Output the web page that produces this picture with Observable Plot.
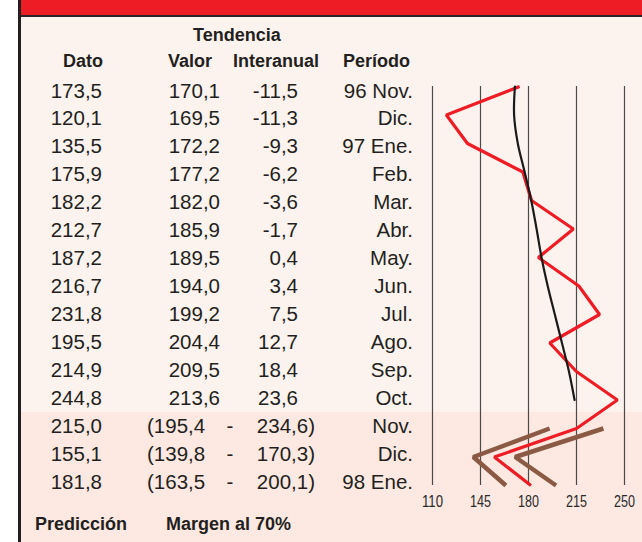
<!DOCTYPE html>
<html>
<head>
<meta charset="utf-8">
<script src="https://cdn.jsdelivr.net/npm/d3@7"></script>
<script src="https://cdn.jsdelivr.net/npm/@observablehq/plot@0.6"></script>
<style>
  html, body { margin: 0; padding: 0; background: #fff; }
  #wrap { position: relative; width: 642px; height: 542px; overflow: hidden; background: #fff;
          font-family: "Liberation Sans", Arial, Helvetica, sans-serif; }
  #band { position: absolute; left: 21px; top: 0; width: 621px; height: 14.5px; background: #ee1c25; }
  #bandline { position: absolute; left: 21px; top: 14.5px; width: 621px; height: 2.2px; background: #2b2527; }
  #panel { position: absolute; left: 21px; top: 16.7px; width: 621px; height: 526px; background: #fdf3ee; }
  #lower { position: absolute; left: 21px; top: 412px; width: 621px; height: 130px; background: #fde9e1; }
  #leftline { position: absolute; left: 18px; top: 0; width: 3px; height: 542px; background: #231f20; }
  #wrap svg.layer { position: absolute; left: 0; top: 0; }
</style>
</head>
<body>
<div id="wrap">
  <div id="band"></div>
  <div id="bandline"></div>
  <div id="panel"></div>
  <div id="lower"></div>
  <div id="leftline"></div>
</div>
<script>
// ---------------- data ----------------
const periods = ["96 Nov.", "Dic.", "97 Ene.", "Feb.", "Mar.", "Abr.", "May.", "Jun.", "Jul.", "Ago.", "Sep.", "Oct.", "Nov.", "Dic.", "98 Ene."];
const dato = [173.5, 120.1, 135.5, 175.9, 182.2, 212.7, 187.2, 216.7, 231.8, 195.5, 214.9, 244.8, 215.0, 155.1, 181.8];
const tendValor = [170.1, 169.5, 172.2, 177.2, 182.0, 185.9, 189.5, 194.0, 199.2, 204.4, 209.5, 213.6];
const tendInteranual = [-11.5, -11.3, -9.3, -6.2, -3.6, -1.7, 0.4, 3.4, 7.5, 12.7, 18.4, 23.6];
const margenInf = [195.4, 139.8, 163.5];
const margenSup = [234.6, 170.3, 200.1];
const xTicks = [110, 145, 180, 215, 250];

const nObs = tendValor.length; // 12 observed months, then 3 predicted
const fmt = v => v.toFixed(1).replace(".", ",");

// ---------------- chart ----------------
const datoRows = dato.map((v, i) => ({i, v}));
const tendRows = tendValor.map((v, i) => ({i, v}));
const infRows = margenInf.map((v, k) => ({i: nObs + k, v}));
const supRows = margenSup.map((v, k) => ({i: nObs + k, v}));

const chart = Plot.plot({
  width: 642,
  height: 542,
  marginLeft: 432,
  marginRight: 18,
  marginTop: 86,
  marginBottom: 57,
  style: {background: "transparent", overflow: "visible"},
  x: {domain: [110, 250], axis: null},
  y: {domain: [0, 14], reverse: true, axis: null},
  marks: [
    Plot.ruleX(xTicks, {stroke: "#4a4a4a", strokeWidth: 1.2}),
    Plot.axisX(xTicks, {
      tickSize: 0, tickPadding: 10, label: null,
      tickFormat: d => String(d),
      fontSize: 16.5, fill: "#2a2a2a",
      fontFamily: "'Liberation Sans Narrow', 'Arial Narrow', 'Liberation Sans', sans-serif"
    }),
    Plot.line(infRows, {x: "v", y: "i", stroke: "#8b5a45", strokeWidth: 4.5, strokeLinejoin: "miter", strokeLinecap: "butt"}),
    Plot.line(supRows, {x: "v", y: "i", stroke: "#8b5a45", strokeWidth: 4.5, strokeLinejoin: "miter", strokeLinecap: "butt"}),
    Plot.line(datoRows, {x: "v", y: "i", stroke: "#ee1c25", strokeWidth: 3.2, strokeLinejoin: "miter", strokeLinecap: "butt"}),
    Plot.line(tendRows, {x: "v", y: "i", stroke: "#1a1a1a", strokeWidth: 2.2, curve: "catmull-rom"})
  ]
});
chart.classList.add("layer");
// condensed look for the tick labels
d3.select(chart).selectAll('[aria-label="x-axis tick label"] text')
  .attr("textLength", function () { return this.textContent.length * 7; })
  .attr("lengthAdjust", "spacingAndGlyphs");
document.getElementById("wrap").appendChild(chart);

// ---------------- table text ----------------
const rowY = d3.scaleLinear().domain([0, 14]).range([97.5, 488.5]);
const svg = d3.select("#wrap").append("svg")
  .attr("class", "layer")
  .attr("width", 642).attr("height", 542)
  .style("font-family", "'Liberation Sans', Arial, Helvetica, sans-serif")
  .style("fill", "#231f20");

const headers = [
  {t: "Tendencia", x: 193, y: 41},
  {t: "Dato", x: 63, y: 67},
  {t: "Valor", x: 168, y: 67},
  {t: "Interanual", x: 233, y: 67},
  {t: "Período", x: 343, y: 67},
  {t: "Predicción", x: 35, y: 530},
  {t: "Margen al 70%", x: 166, y: 530}
];
svg.selectAll("text.h").data(headers).join("text")
  .attr("class", "h")
  .attr("x", d => d.x).attr("y", d => d.y)
  .attr("font-size", 18).attr("font-weight", "bold")
  .text(d => d.t);

function col(values, x, anchor) {
  svg.append("g").selectAll("text").data(values).join("text")
    .attr("x", x)
    .attr("y", (d, i) => rowY(d.i))
    .attr("font-size", 20.5)
    .attr("text-anchor", anchor)
    .text(d => d.t);
}

col(dato.map((v, i) => ({i, t: fmt(v)})), 102, "end");
col(tendValor.map((v, i) => ({i, t: fmt(v)})), 220, "end");
col(tendInteranual.map((v, i) => ({i, t: fmt(v)})), 298, "end");
col(periods.map((p, i) => ({i, t: p})), 413, "end");
col(margenInf.map((v, k) => ({i: nObs + k, t: "(" + fmt(v)})), 147, "start");
col(margenInf.map((v, k) => ({i: nObs + k, t: "-"})), 230, "middle");
col(margenSup.map((v, k) => ({i: nObs + k, t: fmt(v) + ")"})), 315, "end");
</script>
</body>
</html>
